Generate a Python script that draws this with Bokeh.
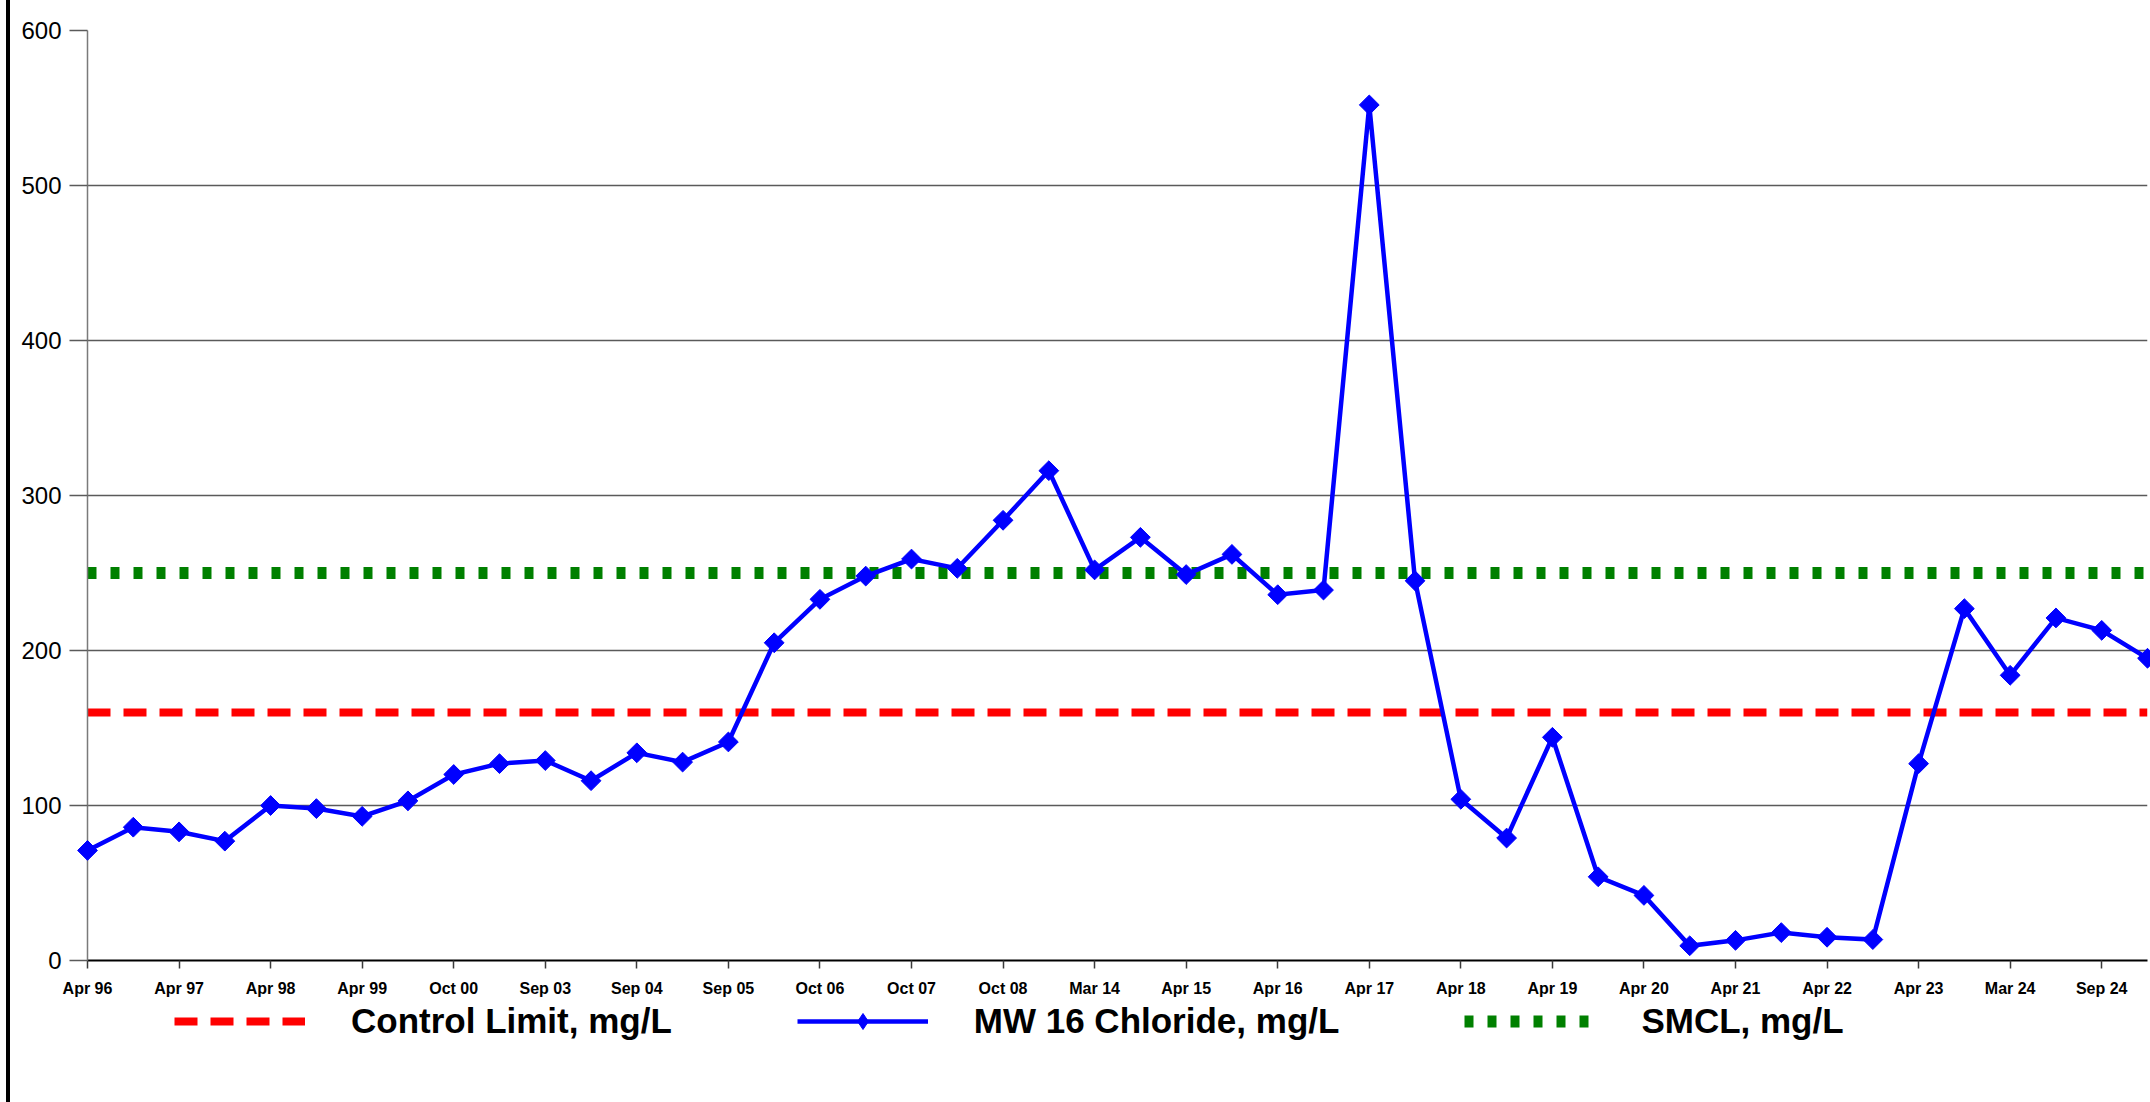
import math

from bokeh.plotting import figure
from bokeh.layouts import row, column
from bokeh.models import (Range1d, FixedTicker, Legend, LegendItem, Spacer,
                          ColumnDataSource)
from bokeh.embed import file_html
from bokeh.resources import INLINE

# Sampling rounds: a label on every other round
tick_labels = ["Apr 96", "Apr 97", "Apr 98", "Apr 99", "Oct 00", "Sep 03",
               "Sep 04", "Sep 05", "Oct 06", "Oct 07", "Oct 08", "Mar 14",
               "Apr 15", "Apr 16", "Apr 17", "Apr 18", "Apr 19", "Apr 20",
               "Apr 21", "Apr 22", "Apr 23", "Mar 24", "Sep 24"]

# MW 16 chloride results, mg/L, one per sampling round
chloride = [71, 86, 83, 77, 100, 98, 93, 103, 120, 127,
            129, 116, 134, 128, 141, 205, 233, 248, 259, 253,
            284, 316, 252, 273, 249, 262, 236, 239, 552, 245,
            104, 79, 144, 54, 42, 9.5, 13, 18, 15, 13.5,
            127, 227, 184, 221, 213, 195]

control_limit = 160   # mg/L
smcl = 250            # mg/L

y_ticks = [0, 100, 200, 300, 400, 500, 600]

n = len(chloride)
src = ColumnDataSource(dict(
    x=list(range(n)),
    chloride=chloride,
    limit=[control_limit] * n,
    smcl=[smcl] * n,
))

FONT = "'Liberation Sans', Arial, Helvetica, sans-serif"

RED = dict(line_color="#ff0000", line_width=8, line_dash="23 13", line_cap="butt")
GREEN = dict(line_color="#008000", line_width=12, line_dash="9 14", line_cap="butt")
BLUE = dict(line_color="#0000ff", line_width=4.5, line_join="miter")
DIAMOND = dict(marker="square", angle=math.pi / 4, size=14, fill_color="#0000ff",
               line_color="#0000ff", line_width=1)

p = figure(width=2140, height=999, output_backend="svg", toolbar_location=None,
           x_range=Range1d(0, n - 1), y_range=Range1d(y_ticks[0], y_ticks[-1]),
           min_border_left=77, min_border_right=3, min_border_top=30,
           min_border_bottom=39)
p.outline_line_color = None
p.background_fill_color = "white"
p.border_fill_color = "white"

# grid
p.xgrid.visible = False
p.ygrid.ticker = FixedTicker(ticks=y_ticks)
p.ygrid.grid_line_color = "#5a5a5a"
p.ygrid.grid_line_width = 1.5

# y axis
p.yaxis.ticker = FixedTicker(ticks=y_ticks)
p.yaxis.axis_line_color = "#7a7a7a"
p.yaxis.axis_line_width = 1.5
p.yaxis.major_tick_in = 0
p.yaxis.major_tick_out = 18
p.yaxis.major_tick_line_color = "#5a5a5a"
p.yaxis.major_tick_line_width = 1.5
p.yaxis.minor_tick_line_color = None
p.yaxis.major_label_standoff = 8
p.yaxis.major_label_text_font = FONT
p.yaxis.major_label_text_font_size = "24px"
p.yaxis.major_label_text_color = "black"

# x axis: category rounds, labelled every second one
p.xaxis.ticker = FixedTicker(ticks=list(range(0, n, 2)))
p.xaxis.major_label_overrides = {2 * i: lab for i, lab in enumerate(tick_labels)}
p.xaxis.axis_line_color = "black"
p.xaxis.axis_line_width = 2
p.xaxis.major_tick_in = 0
p.xaxis.major_tick_out = 8
p.xaxis.major_tick_line_color = "#3a3a3a"
p.xaxis.major_tick_line_width = 1.5
p.xaxis.minor_tick_line_color = None
p.xaxis.major_label_standoff = 11
p.xaxis.major_label_text_font = FONT
p.xaxis.major_label_text_font_size = "16px"
p.xaxis.major_label_text_font_style = "bold"
p.xaxis.major_label_text_color = "black"

# reference limits and the chloride series
p.line("x", "limit", source=src, **RED)
p.line("x", "smcl", source=src, **GREEN)
p.line("x", "chloride", source=src, **BLUE)
p.scatter("x", "chloride", source=src, level="overlay", **DIAMOND)

# legend strip under the chart (its frame lines up with the chart frame)
leg = figure(width=2140, height=103, output_backend="svg", toolbar_location=None,
             x_range=Range1d(0, n - 1), y_range=Range1d(-1000, -900),
             min_border=0, x_axis_location=None, y_axis_location=None)
leg.outline_line_color = None
leg.grid.visible = False
leg.background_fill_color = "white"
leg.border_fill_color = "white"

k_red = leg.line("x", "limit", source=src, visible=False, **RED)
k_blue = leg.line("x", "chloride", source=src, visible=False, **BLUE)
k_dot = leg.scatter("x", "chloride", source=src, visible=False, marker="diamond",
                    size=19, fill_color="#0000ff", line_color="#0000ff", line_width=1)
k_green = leg.line("x", "smcl", source=src, visible=False, **GREEN)

legend = Legend(items=[
    LegendItem(label="Control Limit, mg/L", renderers=[k_red]),
    LegendItem(label="MW 16 Chloride, mg/L", renderers=[k_blue, k_dot]),
    LegendItem(label="SMCL, mg/L", renderers=[k_green]),
], orientation="horizontal", location=(87, 61), click_policy="none")
legend.glyph_width = 131
legend.glyph_height = 40
legend.label_height = 40
legend.label_standoff = 46
legend.spacing = 125
legend.padding = 0
legend.margin = 0
legend.border_line_color = None
legend.background_fill_alpha = 0
legend.label_text_font = FONT
legend.label_text_font_size = "35px"
legend.label_text_font_style = "bold"
legend.label_text_color = "black"
leg.add_layout(legend, "center")

# chart border on the left edge
gap = Spacer(width=6, height=1102)
edge = Spacer(width=4, height=1102, styles={"background-color": "black"})

page = row(gap, edge, column(p, leg, spacing=0), spacing=0)

open("out.html", "w").write(file_html(page, INLINE))
